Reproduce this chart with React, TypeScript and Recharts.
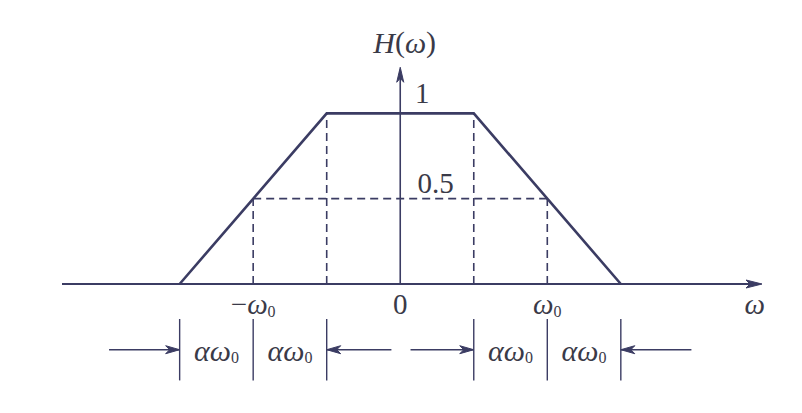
import { LineChart, Line, XAxis, YAxis, ReferenceLine, ReferenceDot } from 'recharts';

// trapezoid H(w), w in units of w0, alpha = 0.5
const freq = [-1.5, -0.5, 0.5, 1.5];
const gain = [0, 1, 1, 0];

// dashed guides
const guideX = [-1, -0.5, 0.5, 1];
const guideH = [0.5, 1, 1, 0.5];
const halfLevel = 0.5;

// dimension row under the axis
const dimBars = [-1.5, -1, -0.5, 0.5, 1, 1.5];
const dimLabelX = [-1.25, -0.75, 0.75, 1.25];
const dimArrows = [
  { from: -1.98, to: -1.5 },
  { from: -0.06, to: -0.5 },
  { from: 0.07, to: 0.5 },
  { from: 1.98, to: 1.5 },
];

const tickX = [-1, 0, 1];
const tickText = ['−ω', '0', 'ω'];
const tickSub = ['0', '', '0'];

const data = freq.map((w, i) => ({ w, h: gain[i] }));

const INK = '#3b3c63';
const TEXT = '#3a3a48';
const FONT = 'Liberation Serif, Times New Roman, serif';

const Y_TEXT = -0.12;
const Y_DIM = -0.385;

const arrowHead = (dir: 'right' | 'left' | 'up', len = 14, half = 4) => (p: any) => {
  const { cx, cy } = p;
  let d = '';
  if (dir === 'right') d = `M${cx},${cy} L${cx - len},${cy - half} L${cx - len + 4},${cy} L${cx - len},${cy + half} Z`;
  if (dir === 'left') d = `M${cx},${cy} L${cx + len},${cy - half} L${cx + len - 4},${cy} L${cx + len},${cy + half} Z`;
  if (dir === 'up') d = `M${cx},${cy} L${cx - half},${cy + len} L${cx},${cy + len - 4} L${cx + half},${cy + len} Z`;
  return <path d={d} fill={INK} stroke={INK} strokeWidth={1} />;
};

const label = (content: React.ReactNode, size = 28, anchor: 'middle' | 'start' = 'middle') => (p: any) => (
  <text
    x={p.cx}
    y={p.cy}
    textAnchor={anchor}
    dominantBaseline="central"
    style={{ fontFamily: FONT }}
    fontSize={size}
    fill={TEXT}
  >
    {content}
  </text>
);

const omegaSub = (pre: string, sub: string, size = 29) => (
  <>
    {pre.startsWith('−') ? <tspan>−</tspan> : null}
    <tspan fontStyle="italic">{pre.replace('−', '')}</tspan>
    {sub ? (
      <tspan fontSize={size * 0.55} dy={7}>
        {sub}
      </tspan>
    ) : null}
  </>
);

export default function App() {
  return (
    <div style={{ position: 'absolute', left: 0, top: 0, background: '#fff' }}>
      <LineChart width={802} height={413} data={data} margin={{ top: 28, right: 40, bottom: 1, left: 62 }}>
        <XAxis dataKey="w" type="number" domain={[-2.3, 2.46]} allowDataOverflow hide />
        <YAxis type="number" domain={[-0.75, 1.5]} allowDataOverflow hide />

        {/* axes */}
        <ReferenceLine segment={[{ x: -2.3, y: 0 }, { x: 2.44, y: 0 }]} stroke={INK} strokeWidth={1.8} />
        <ReferenceDot x={2.46} y={0} r={0} shape={arrowHead('right', 16, 4)} />
        <ReferenceLine segment={[{ x: 0, y: 0 }, { x: 0, y: 1.25 }]} stroke={INK} strokeWidth={1.6} />
        <ReferenceDot x={0} y={1.27} r={0} shape={arrowHead('up', 15, 3.5)} />

        {/* dashed guides */}
        {guideX.map((x, i) => (
          <ReferenceLine
            key={`g${i}`}
            segment={[{ x, y: 0 }, { x, y: guideH[i] }]}
            stroke={INK}
            strokeWidth={1.6}
            strokeDasharray="8 5"
          />
        ))}
        <ReferenceLine
          segment={[{ x: -1, y: halfLevel }, { x: 1, y: halfLevel }]}
          stroke={INK}
          strokeWidth={1.6}
          strokeDasharray="8 5"
        />

        <Line
          dataKey="h"
          type="linear"
          stroke={INK}
          strokeWidth={2.6}
          dot={false}
          isAnimationActive={false}
        />

        {/* axis labels */}
        <ReferenceDot x={0.03} y={1.418} r={0} shape={label(<><tspan fontStyle="italic">H</tspan>(<tspan fontStyle="italic">ω</tspan>)</>, 30)} />
        <ReferenceDot x={0.15} y={1.12} r={0} shape={label('1', 29)} />
        <ReferenceDot x={0.24} y={0.59} r={0} shape={label('0.5', 29)} />
        <ReferenceDot x={2.41} y={Y_TEXT} r={0} shape={label(<tspan fontStyle="italic">ω</tspan>, 29)} />
        {tickX.map((x, i) => (
          <ReferenceDot
            key={`t${i}`}
            x={x}
            y={Y_TEXT}
            r={0}
            shape={label(tickText[i] === '0' ? '0' : omegaSub(tickText[i], tickSub[i]), 29)}
          />
        ))}

        {/* dimension row */}
        {dimBars.map((x, i) => (
          <ReferenceLine key={`b${i}`} segment={[{ x, y: -0.205 }, { x, y: -0.565 }]} stroke={INK} strokeWidth={1.4} />
        ))}
        {dimArrows.map((a, i) => (
          <ReferenceLine key={`a${i}`} segment={[{ x: a.from, y: Y_DIM }, { x: a.to, y: Y_DIM }]} stroke={INK} strokeWidth={1.4} />
        ))}
        {dimArrows.map((a, i) => (
          <ReferenceDot
            key={`ah${i}`}
            x={a.to}
            y={Y_DIM}
            r={0}
            shape={arrowHead(a.to > a.from ? 'right' : 'left', 14, 4)}
          />
        ))}
        {dimLabelX.map((x, i) => (
          <ReferenceDot
            key={`d${i}`}
            x={x}
            y={Y_DIM}
            r={0}
            shape={label(
              <>
                <tspan fontStyle="italic">αω</tspan>
                <tspan fontSize={16} dy={7}>0</tspan>
              </>,
              30
            )}
          />
        ))}
      </LineChart>
    </div>
  );
}
